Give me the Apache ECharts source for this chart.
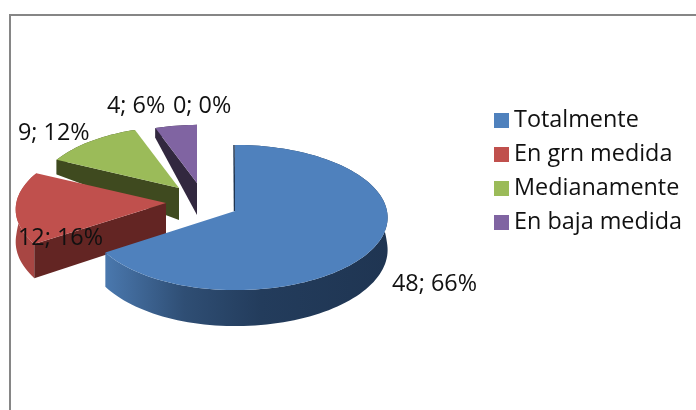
<!DOCTYPE html>
<html><head><meta charset="utf-8">
<style>html,body{margin:0;padding:0;background:#fff}#c{width:696px;height:410px}</style>
<script src="https://cdn.jsdelivr.net/npm/echarts@6/dist/echarts.min.js"></script>
</head><body><div id="c"></div>
<script>
const categories = ['Totalmente', 'En grn medida', 'Medianamente', 'En baja medida', ''];
const values = [48, 12, 9, 4, 0];
const percents = [66, 16, 12, 6, 0];
const total = values.reduce((a, b) => a + b, 0);

const topColors = ['#4F81BD', '#C0504D', '#9BBB59', '#8064A2', '#8064A2'];
const cutColors = ['#1F3552', '#632523', '#3F4A1F', '#32283F', '#32283F'];
const rimColors = [null, '#A84643', '#3F4A1F', '#32283F', '#32283F'];
const FAMILY = '"Open Sans"';
const SIZE = 23.4;

// Projection of the tilted pie and the screen placement of each exploded slice
const RX = 152, RY = 72, K = 0.09;
const slices = [
  {ax: 235, ay: 211, sc: 1,     l: 0.97, lx: 392, ly: 284},
  {ax: 166, ay: 203, sc: 0.985, l: 1,    lx: 18,  ly: 238},
  {ax: 179, ay: 188, sc: 0.93,  l: 1,    lx: 18,  ly: 133},
  {ax: 197, ay: 183, sc: 0.88,  l: 1,    lx: 107, ly: 106},
  {ax: 197, ay: 183, sc: 0.88,  l: 1,    lx: 173, ly: 106}
];

function rim(s, deg) {
  const t = deg * Math.PI / 180, u = Math.sin(t), v = Math.cos(t), f = s.sc / (1 + K * v);
  return [s.ax + RX * u * f * (u < 0 ? s.l : 1), s.ay - RY * v * f, v];
}
function depth(v) { return v > 0 ? Math.max(10, 32 - 40 * v) : 32 - 4 * v; }
function drop(p) { return [p[0], p[1] + depth(p[2])]; }
function arc(s, a, b) {
  const pts = [], n = Math.max(2, Math.ceil(Math.abs(b - a) / 2));
  for (let i = 0; i <= n; i++) pts.push(rim(s, a + (b - a) * i / n));
  return pts;
}

let acc = 0;
const ranges = values.map(v => { const a = acc; acc += v; return [a / total * 360, acc / total * 360]; });

function makeSeries(i) {
  return {
    type: 'custom', name: categories[i] || 'sin nombre', coordinateSystem: 'none', silent: true,
    itemStyle: {color: topColors[i]},
    data: [[ranges[i][0], ranges[i][1], values[i], percents[i]]],
    renderItem: function (params, api) {
      const a = api.value(0), b = api.value(1), v = api.value(2), s = slices[i];
      const children = [];
      if (v > 0) {
        const pts = arc(s, a, b), apex = [s.ax, s.ay, 0], xy = p => [p[0], p[1]];
        const rimFill = i === 0
          ? {type: 'linear', x: 1, y: 0, x2: 0, y2: 0, colorStops: [
              {offset: 0, color: '#1F3552'}, {offset: 0.45, color: '#233C5C'},
              {offset: 0.72, color: '#2F4E74'}, {offset: 1, color: '#4A78AE'}]}
          : rimColors[i];
        children.push({type: 'polygon', shape: {points: pts.map(xy).concat(pts.slice().reverse().map(drop))},
          style: {fill: rimFill}});
        const st = pts[0];
        if (i === 0) {
          children.push({type: 'polyline', shape: {points: [[apex[0] - 0.5, apex[1]], [st[0] - 1, st[1]]]},
            style: {stroke: cutColors[i], lineWidth: 1.5, fill: null}});
        } else {
          children.push({type: 'polygon', shape: {points: [xy(st), xy(apex), drop(apex), drop(st)]},
            style: {fill: cutColors[i]}});
        }
        children.push({type: 'polygon', shape: {points: [xy(apex)].concat(pts.map(xy))},
          style: {fill: topColors[i]}});
      }
      children.push({type: 'text', z2: 10, x: s.lx, y: s.ly, style: {
        text: v + '; ' + api.value(3) + '%', fontFamily: FAMILY, fontSize: SIZE, fill: '#111',
        textAlign: 'left', textVerticalAlign: 'middle'}});
      return {type: 'group', children};
    }
  };
}

const chart = echarts.init(document.getElementById('c'), null, {renderer: 'canvas'});
chart.setOption({
  animation: false,
  backgroundColor: '#fff',
  legend: {
    orient: 'vertical', left: 494, top: 107, icon: 'rect', itemWidth: 15, itemHeight: 15,
    itemGap: 7, selectedMode: false, padding: 0,
    data: categories.filter(Boolean),
    textStyle: {fontFamily: FAMILY, fontSize: SIZE, color: '#111', lineHeight: 27, height: 27}
  },
  graphic: [
    {type: 'polyline', silent: true, shape: {points: [[10, 410], [10, 15], [696, 15]]},
     style: {stroke: '#868686', lineWidth: 2, fill: null}}
  ],
  series: [4, 3, 2, 1, 0].map(makeSeries)
});
</script></body></html>
